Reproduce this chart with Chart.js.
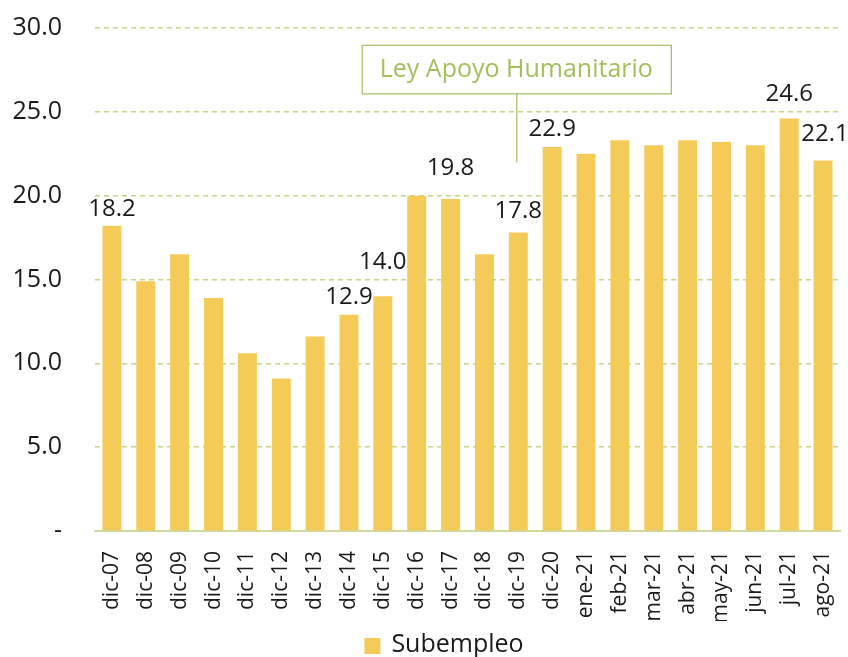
<!DOCTYPE html>
<html><head><meta charset="utf-8">
<script src="https://cdn.jsdelivr.net/npm/chart.js@4"></script>
<style>html,body{margin:0;padding:0;background:#fff}#w{width:848px;height:657px}</style>
</head><body><div id="w"><canvas id="c"></canvas></div>
<script>
const categories = ["dic-07","dic-08","dic-09","dic-10","dic-11","dic-12","dic-13","dic-14","dic-15","dic-16","dic-17","dic-18","dic-19","dic-20","ene-21","feb-21","mar-21","abr-21","may-21","jun-21","jul-21","ago-21"];
const subempleo = [18.2,14.9,16.5,13.9,10.6,9.1,11.6,12.9,14.0,20.0,19.8,16.5,17.8,22.9,22.5,23.3,23.0,23.3,23.2,23.0,24.6,22.1];
const labeledCategories = ["dic-07","dic-14","dic-15","dic-17","dic-19","dic-20","jul-21","ago-21"];
const yTicks = [0,5,10,15,20,25,30];
const annotationText = "Ley Apoyo Humanitario";
const annotationCategory = "dic-19";

const FONT = "'Open Sans', 'DejaVu Sans', sans-serif";
const GREEN = "#A4BE5C";

// vertical gap (px) between bar top and label centre
const labelGap = { "dic-07": 17, "dic-14": 18, "dic-15": 34, "dic-17": 31, "dic-19": 21, "dic-20": 18, "jul-21": 24, "ago-21": 26 };

const valueLabels = {
  id: 'valueLabels',
  afterDatasetsDraw(chart) {
    const ctx = chart.ctx;
    const meta = chart.getDatasetMeta(0);
    ctx.save();
    ctx.font = "24px " + FONT;
    ctx.fillStyle = "#1a1a1a";
    ctx.textAlign = "center";
    ctx.textBaseline = "middle";
    categories.forEach((c, i) => {
      if (!labeledCategories.includes(c)) return;
      const bar = meta.data[i];
      const dx = c === "ago-21" ? 2 : 0;
      ctx.fillText(subempleo[i].toFixed(1), bar.x + dx, bar.y - labelGap[c]);
    });
    ctx.restore();
  }
};

const annotation = {
  id: 'annotation',
  afterDatasetsDraw(chart) {
    const ctx = chart.ctx;
    const xs = chart.scales.x, ys = chart.scales.y;
    const idx = categories.indexOf(annotationCategory);
    const cx = xs.getPixelForValue(idx) - 2;
    const top = ys.getPixelForValue(29.0);
    const bottom = ys.getPixelForValue(26.1);
    ctx.save();
    ctx.font = "25px " + FONT;
    const tw = ctx.measureText(annotationText).width;
    const w = tw + 36;
    ctx.fillStyle = "#fff";
    ctx.fillRect(cx - w/2, top, w, bottom - top);
    ctx.strokeStyle = GREEN;
    ctx.lineWidth = 1.2;
    ctx.strokeRect(cx - w/2 + 0.5, top + 0.5, w, bottom - top);
    ctx.beginPath();
    ctx.moveTo(cx + 0.5, bottom);
    ctx.lineTo(cx + 0.5, ys.getPixelForValue(22.0));
    ctx.stroke();
    ctx.fillStyle = GREEN;
    ctx.textAlign = "center";
    ctx.textBaseline = "middle";
    ctx.fillText(annotationText, cx, (top + bottom) / 2 + 1);
    ctx.restore();
  }
};

const bottomLegend = {
  id: 'bottomLegend',
  afterDraw(chart) {
    const ctx = chart.ctx;
    const ds = chart.data.datasets[0];
    ctx.save();
    ctx.font = "25px " + FONT;
    const tw = ctx.measureText(ds.label).width;
    const total = 16 + 11 + tw;
    const x0 = (chart.width - total) / 2 + 20;
    const yc = 645;
    ctx.fillStyle = ds.backgroundColor;
    ctx.fillRect(x0, yc - 7, 16, 16);
    ctx.fillStyle = "#1a1a1a";
    ctx.textAlign = "left";
    ctx.textBaseline = "middle";
    ctx.fillText(ds.label, x0 + 27, yc);
    ctx.restore();
  }
};

new Chart(document.getElementById('c'), {
  type: 'bar',
  data: {
    labels: categories,
    datasets: [{
      label: 'Subempleo',
      data: subempleo,
      backgroundColor: '#F4CB58',
      borderWidth: 0,
      categoryPercentage: 1.0,
      barPercentage: 0.56
    }]
  },
  options: {
    responsive: true,
    maintainAspectRatio: false,
    animation: false,
    layout: { padding: { left: 0, right: 0, top: 28, bottom: 36 } },
    plugins: {
      tooltip: { enabled: false },
      legend: { display: false }
    },
    scales: {
      x: {
        afterFit(axis) { axis.height = 90; axis.paddingRight = 8; axis.paddingLeft = 0; },
        grid: { display: false, drawTicks: false },
        border: { display: true, color: '#CFD99A', width: 2 },
        ticks: {
          font: { family: FONT, size: 21 },
          color: '#1a1a1a',
          minRotation: 90, maxRotation: 90,
          autoSkip: false,
          padding: 20
        }
      },
      y: {
        min: 0, max: 30,
        afterBuildTicks(axis) { axis.ticks = yTicks.map(v => ({ value: v })); },
        afterFit(axis) { axis.width = 95; axis.paddingTop = 0; axis.paddingBottom = 0; },
        grid: {
          color: (ctx) => ctx.tick && ctx.tick.value === 0 ? 'rgba(0,0,0,0)' : '#C3D482',
          lineWidth: 1.5,
          drawTicks: false
        },
        border: { display: false, dash: [5,4] },
        ticks: {
          font: { family: FONT, size: 25 },
          color: '#1a1a1a',
          padding: 33,
          callback: (v) => v === 0 ? '-' : Number(v).toFixed(1)
        }
      }
    }
  },
  plugins: [valueLabels, annotation, bottomLegend]
});
</script>
</body></html>
